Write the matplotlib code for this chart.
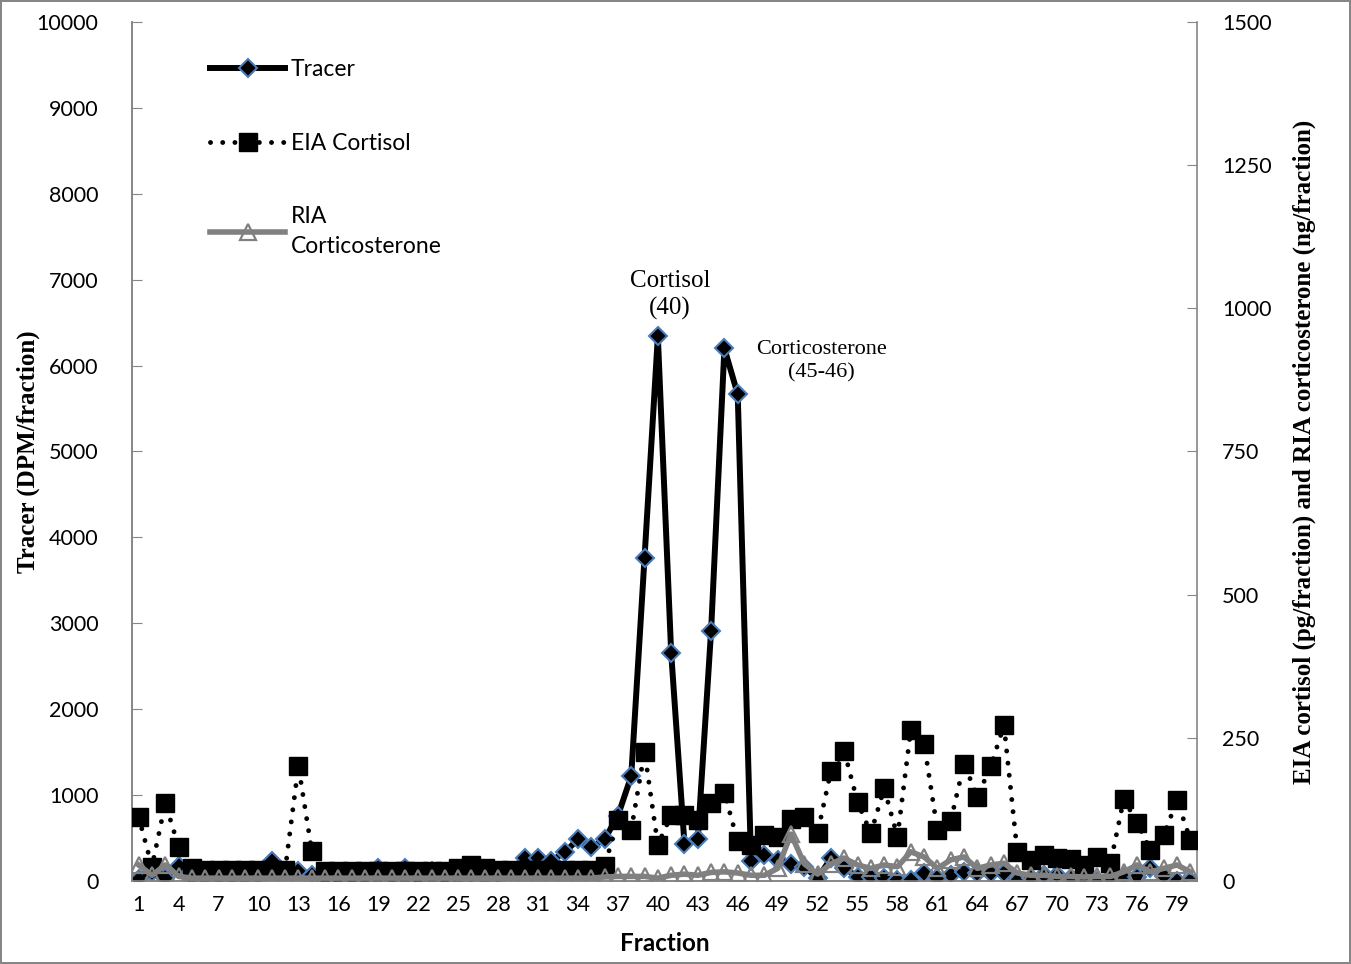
import matplotlib
matplotlib.use("Agg")
import matplotlib.pyplot as plt

# fractions 1..80
fractions = list(range(1, 81))

# Tracer (DPM/fraction), left axis
tracer = [20, 100, 30, 180, 10, 10, 30, 40, 10, 50,
          230, 100, 120, 70, 10, 10, 10, 60, 150, 60,
          150, 10, 120, 50, 10, 60, 10, 60, 90, 264,
          264, 236, 333, 485, 392, 485, 760, 1220, 3764, 6340,
          2658, 430, 485, 2914, 6200, 5666, 236, 298, 244, 198,
          167, 31, 264, 150, 50, 50, 31, 12, 12, 89,
          35, 70, 100, 90, 89, 90, 0, 30, 70, 70,
          40, 30, 0, 30, 50, 50, 148, 60, 0, 0]

# EIA cortisol (pg/fraction), right axis
eia = [112, 25, 136, 60, 22, 19, 19, 19, 19, 19,
       19, 19, 201, 53, 18, 18, 18, 18, 18, 18,
       18, 18, 18, 18, 22, 28, 22, 19, 19, 19,
       19, 19, 19, 19, 19, 26, 106, 89, 226, 63,
       115, 115, 106, 136, 154, 69, 63, 80, 77, 109,
       112, 84, 192, 227, 138, 83, 162, 77, 264, 240,
       89, 105, 205, 147, 200, 272, 51, 37, 45, 40,
       38, 28, 42, 31, 143, 102, 54, 80, 141, 72]

# RIA corticosterone (ng/fraction), right axis
ria = [28, 10, 28, 8, 5, 5, 5, 5, 5, 5,
       5, 5, 5, 5, 5, 5, 5, 5, 5, 5,
       5, 5, 5, 5, 5, 5, 5, 5, 5, 5,
       5, 5, 5, 5, 5, 7, 8, 8, 8, 5,
       10, 12, 10, 15, 16, 14, 10, 10, 22, 82,
       30, 12, 30, 40, 28, 22, 28, 25, 51, 42,
       22, 37, 42, 22, 28, 31, 14, 10, 10, 8,
       8, 7, 8, 8, 16, 28, 16, 22, 28, 16]

xticks = list(range(1, 81, 3))
left_ticks = list(range(0, 10001, 1000))
right_ticks = list(range(0, 1501, 250))

tick_font = "Lato"
serif = "Liberation Serif"
grey = "#868686"

fig = plt.figure(figsize=(13.51, 9.64), dpi=100, edgecolor=grey, linewidth=1.5)
ax = fig.add_axes([132/1351, 1 - 881/964, (1197-132)/1351, (881-22)/964])
ax2 = ax.twinx()

ax.plot(fractions, tracer, color="black", lw=4.3, marker="D", ms=9,
        mfc="black", mec="#4a7ebb", mew=1.5, label="Tracer", zorder=3)

ax2.plot(fractions, eia, color="black", lw=3.5, linestyle=(0, (0.01, 2.5)),
         dash_capstyle="round", marker="s", ms=13, mfc="black", mec="black",
         label="EIA Cortisol", zorder=3)
ax2.plot(fractions, ria, color="#808080", lw=4, marker="^", ms=11,
         mfc="none", mec="#808080", mew=1.6, label="RIA\nCorticosterone", zorder=4)

ax.set_xlim(0.5, 80.5)
ax.set_ylim(0, 10000)
ax2.set_ylim(0, 1500)
ax.set_xticks(xticks)
ax.set_yticks(left_ticks)
ax2.set_yticks(right_ticks)

for a in (ax, ax2):
    for s in a.spines.values():
        s.set_color(grey)
        s.set_linewidth(1.2)
    a.spines["top"].set_visible(False)
ax.spines["right"].set_visible(False)

ax.tick_params(axis="x", length=0, pad=10, labelsize=15.5)
ax.tick_params(axis="y", direction="in", length=7, color=grey, pad=24, labelsize=15.5)
ax2.tick_params(axis="y", direction="in", length=7, color=grey, pad=18, labelsize=15.5)
for lab in ax.get_xticklabels() + ax.get_yticklabels() + ax2.get_yticklabels():
    lab.set_fontfamily(tick_font)

ax.set_xlabel("Fraction", fontfamily=tick_font, fontweight="bold", fontsize=17.5, labelpad=12)
ax.set_ylabel("Tracer (DPM/fraction)", fontfamily=serif, fontweight="bold", fontsize=18)
ax2.set_ylabel("EIA cortisol (pg/fraction) and RIA corticosterone (ng/fraction)",
               fontfamily=serif, fontweight="bold", fontsize=18)
ax.yaxis.set_label_coords(-0.086, 0.5)
ax2.yaxis.set_label_coords(1.09, 0.5)

ax.text(40.9, 6530, "Cortisol\n(40)", ha="center", va="bottom",
        fontfamily=serif, fontsize=18, linespacing=1.3)
ax.text(52.3, 5800, "Corticosterone\n(45-46)", ha="center", va="bottom",
        fontfamily=serif, fontsize=16, linespacing=1.3)

h1, l1 = ax.get_legend_handles_labels()
h2, l2 = ax2.get_legend_handles_labels()
leg = ax2.legend(h1 + h2, l1 + l2, loc="upper left", bbox_to_anchor=(0.073, 0.957),
                 frameon=False, borderpad=0, borderaxespad=0, handlelength=3.3,
                 handletextpad=0.25, labelspacing=2.3,
                 prop={"family": tick_font, "size": 16.5})
leg.get_texts()[2].set_linespacing(1.5)

fig.savefig("out.png", dpi=100)
